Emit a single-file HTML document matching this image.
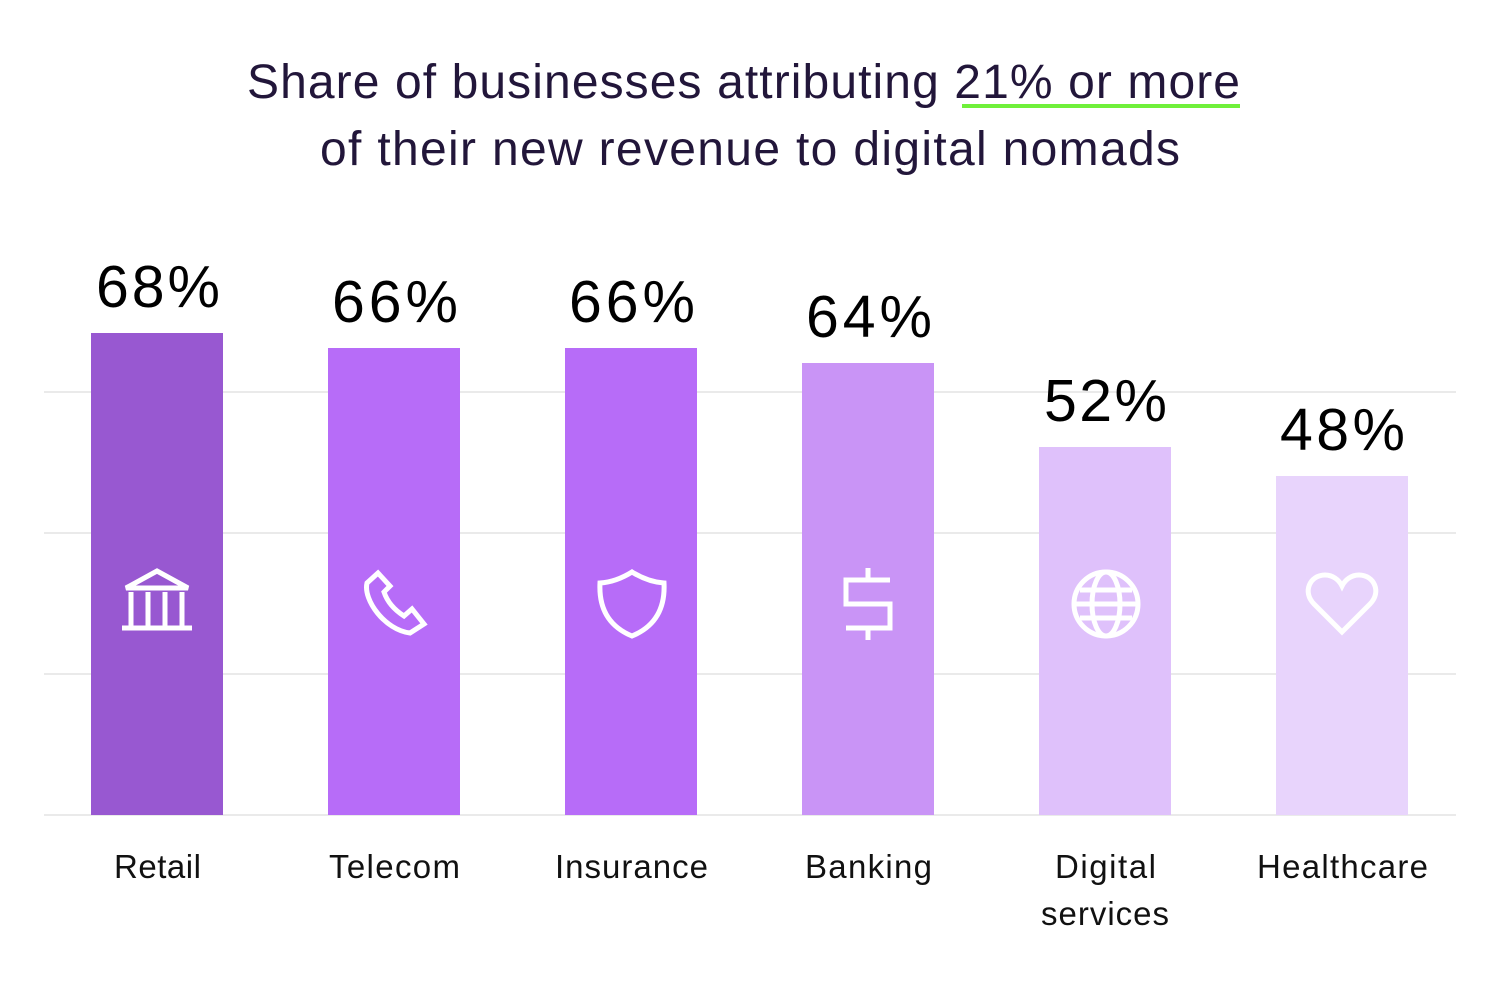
<!DOCTYPE html>
<html><head><meta charset="utf-8"><style>
body{margin:0;width:1500px;height:980px;background:#fff;font-family:"Liberation Sans",sans-serif;overflow:hidden}
</style></head><body>
<svg width="1500" height="980" xmlns="http://www.w3.org/2000/svg" font-family="Liberation Sans, sans-serif">
<g fill="#22163a" font-size="48">
<text x="247" y="98" textLength="993" lengthAdjust="spacing">Share of businesses attributing 21% or more</text>
<text x="320" y="165" textLength="860" lengthAdjust="spacing">of their new revenue to digital nomads</text>
</g>
<rect x="962" y="104" width="278" height="4" fill="#6ff03a"/>
<g stroke="#e3e3e3" stroke-width="1.5">
<line x1="44" y1="392" x2="1456" y2="392"/><line x1="44" y1="533" x2="1456" y2="533"/>
<line x1="44" y1="674" x2="1456" y2="674"/><line x1="44" y1="815" x2="1456" y2="815"/>
</g>
<rect x="91" y="333" width="132" height="482" fill="#9858d1"/>
<rect x="328" y="348" width="132" height="467" fill="#b76cf8"/>
<rect x="565" y="348" width="132" height="467" fill="#b76cf8"/>
<rect x="802" y="363" width="132" height="452" fill="#c994f6"/>
<rect x="1039" y="447" width="132" height="368" fill="#dfc1fb"/>
<rect x="1276" y="476" width="132" height="339" fill="#e8d4fc"/>
<g font-size="59" fill="#000">
<text x="96" y="307" textLength="124" lengthAdjust="spacing">68%</text>
<text x="332" y="322" textLength="126" lengthAdjust="spacing">66%</text>
<text x="569" y="322" textLength="126" lengthAdjust="spacing">66%</text>
<text x="806" y="337" textLength="126" lengthAdjust="spacing">64%</text>
<text x="1044" y="421" textLength="123" lengthAdjust="spacing">52%</text>
<text x="1280" y="450" textLength="125" lengthAdjust="spacing">48%</text>
</g>
<g font-size="33" fill="#111">
<text x="114" y="878" textLength="87" lengthAdjust="spacing">Retail</text>
<text x="329" y="878" textLength="131" lengthAdjust="spacing">Telecom</text>
<text x="555" y="878" textLength="153" lengthAdjust="spacing">Insurance</text>
<text x="805" y="878" textLength="127" lengthAdjust="spacing">Banking</text>
<text x="1055" y="878" textLength="101" lengthAdjust="spacing">Digital</text>
<text x="1041" y="925" textLength="128" lengthAdjust="spacing">services</text>
<text x="1257" y="878" textLength="171" lengthAdjust="spacing">Healthcare</text>
</g>
<g stroke="#fff" stroke-width="5" fill="none">
<path d="M126 588 L157 571 L188 588 Z"/><line x1="122" y1="628" x2="192" y2="628"/>
<line x1="131" y1="592" x2="131" y2="626"/><line x1="148" y1="592" x2="148" y2="626"/>
<line x1="165" y1="592" x2="165" y2="626"/><line x1="182" y1="592" x2="182" y2="626"/>
<path d="M378 573 L367 583 C363 600 385 630 410 633 L424 624 L412 609 L404 616 C393 609 387 601 384 592 L390 586 Z"/>
<path d="M600 583 Q616 582 632 572 Q648 582 664 583 Q666 622 632 636 Q598 622 600 583 Z"/>
<path d="M890 580 L846 580 L846 604 L890 604 L890 628 L846 628"/>
<line x1="868" y1="568" x2="868" y2="580"/><line x1="868" y1="628" x2="868" y2="640"/>
<circle cx="1106" cy="604" r="32"/><ellipse cx="1106" cy="604" rx="14" ry="32"/>
<line x1="1074" y1="604" x2="1138" y2="604"/><line x1="1080" y1="590" x2="1132" y2="590"/><line x1="1080" y1="618" x2="1132" y2="618"/>
<path d="M1342 632 L1314 604 C1302 592 1310 575 1325 575 C1333 575 1339 580 1342 586 C1345 580 1351 575 1359 575 C1374 575 1382 592 1370 604 Z"/>
</g>
</svg>
</body></html>
